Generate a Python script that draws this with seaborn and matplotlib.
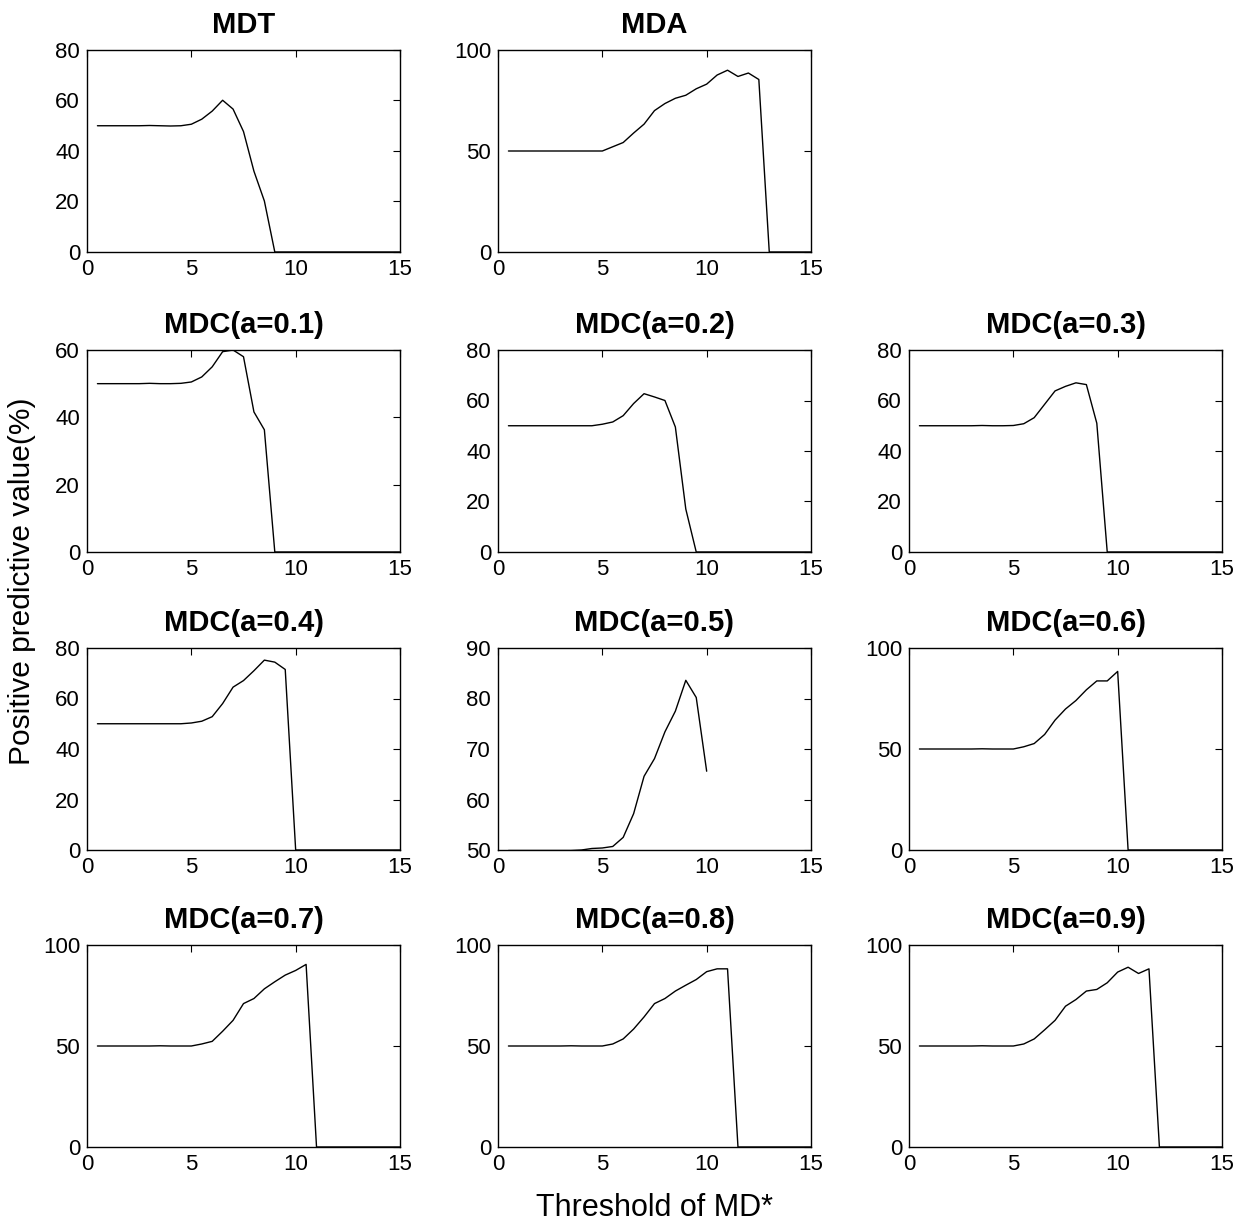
import numpy as np
import pandas as pd
import matplotlib
matplotlib.use("Agg")
import matplotlib.pyplot as plt
import seaborn as sns

# Threshold grid of MD*
thresholds = [0.5, 1.0, 1.5, 2.0, 2.5, 3.0, 3.5, 4.0, 4.5, 5.0,
              5.5, 6.0, 6.5, 7.0, 7.5, 8.0, 8.5, 9.0, 9.5, 10.0,
              10.5, 11.0, 11.5, 12.0, 12.5, 13.0, 13.5, 14.0, 14.5, 15.0]

# Positive predictive value (%) for each method
mdt = [50, 50, 50, 50, 50, 50.1, 50, 49.9, 50, 50.6,
       52.6, 55.8, 60.1, 56.6, 47.7, 32, 20.2, 0, 0, 0,
       0, 0, 0, 0, 0, 0, 0, 0, 0, 0]
mda = [50, 50, 50, 50, 50, 50, 50, 50, 50, 50,
       52.1, 54.2, 58.9, 63.3, 70, 73.5, 76.1, 77.6, 80.8, 83.1,
       87.6, 90, 86.9, 88.6, 85.4, 0, 0, 0, 0, 0]
mdc_01 = [50, 50, 50, 50, 50, 50.1, 50, 50, 50.1, 50.5,
          52, 55, 59.5, 60, 58, 41.6, 36.3, 0, 0, 0,
          0, 0, 0, 0, 0, 0, 0, 0, 0, 0]
mdc_02 = [50, 50, 50, 50, 50, 50, 50, 50, 50, 50.6,
          51.5, 54, 58.8, 62.7, 61.4, 60, 49.5, 17, 0, 0,
          0, 0, 0, 0, 0, 0, 0, 0, 0, 0]
mdc_03 = [50, 50, 50, 50, 50, 50, 50.1, 50, 50, 50.1,
          50.8, 53.2, 58.5, 63.8, 65.6, 67, 66.3, 51, 0, 0,
          0, 0, 0, 0, 0, 0, 0, 0, 0, 0]
mdc_04 = [50, 50, 50, 50, 50, 50, 50, 50, 50, 50.3,
          51, 52.8, 58, 64.5, 67.1, 71, 75.2, 74.4, 71.5, 0,
          0, 0, 0, 0, 0, 0, 0, 0, 0, 0]
mdc_05 = [49.9, 49.9, 49.9, 49.9, 49.9, 49.9, 49.9, 50, 50.3, 50.4,
          50.7, 52.5, 57.2, 64.6, 68.1, 73.4, 77.5, 83.6, 80.2, 65.6,
          np.nan, np.nan, np.nan, np.nan, np.nan, np.nan, np.nan, np.nan, np.nan, np.nan]
mdc_06 = [50, 50, 50, 50, 50, 50, 50.1, 50, 50, 50,
          51.1, 52.7, 57.2, 64.3, 69.8, 74, 79.3, 83.7, 83.7, 88.4,
          0, 0, 0, 0, 0, 0, 0, 0, 0, 0]
mdc_07 = [50, 50, 50, 50, 50, 50, 50.1, 50, 50, 50,
          51, 52.3, 57.3, 62.7, 71, 73.5, 78.3, 81.8, 85.1, 87.4,
          90.4, 0, 0, 0, 0, 0, 0, 0, 0, 0]
mdc_08 = [50, 50, 50, 50, 50, 50, 50.1, 50, 50, 50,
          51, 53.5, 58.4, 64.4, 71, 73.5, 77.2, 80.1, 82.9, 86.8,
          88.2, 88.2, 0, 0, 0, 0, 0, 0, 0, 0]
mdc_09 = [50, 50, 50, 50, 50, 50, 50.1, 50, 50, 50,
          51, 53.5, 58, 62.7, 69.7, 73, 77.2, 78, 81.3, 86.6,
          89, 85.9, 88.2, 0, 0, 0, 0, 0, 0, 0]

titles = ["MDT", "MDA",
          "MDC(a=0.1)", "MDC(a=0.2)", "MDC(a=0.3)",
          "MDC(a=0.4)", "MDC(a=0.5)", "MDC(a=0.6)",
          "MDC(a=0.7)", "MDC(a=0.8)", "MDC(a=0.9)"]
series = [mdt, mda, mdc_01, mdc_02, mdc_03, mdc_04, mdc_05,
          mdc_06, mdc_07, mdc_08, mdc_09]
y_limits = [(0, 80), (0, 100), (0, 60), (0, 80), (0, 80), (0, 80),
            (50, 90), (0, 100), (0, 100), (0, 100), (0, 100)]
y_ticks = [[0, 20, 40, 60, 80], [0, 50, 100], [0, 20, 40, 60],
           [0, 20, 40, 60, 80], [0, 20, 40, 60, 80], [0, 20, 40, 60, 80],
           [50, 60, 70, 80, 90], [0, 50, 100], [0, 50, 100], [0, 50, 100],
           [0, 50, 100]]
x_ticks = [0, 5, 10, 15]

sns.set_style("white")
plt.rcParams["font.family"] = ["Liberation Sans", "DejaVu Sans"]
plt.rcParams["text.color"] = "black"
plt.rcParams["axes.labelcolor"] = "black"
plt.rcParams["axes.titlecolor"] = "black"

W, H = 1242, 1224
fig = plt.figure(figsize=(W / 100, H / 100), dpi=100)

col_left = [87, 498, 909]
row_top = [50, 350, 648, 945]
ax_w, ax_h = 313, 202

# grid slots (row, col); the top-right slot stays empty
slots = [(0, 0), (0, 1),
         (1, 0), (1, 1), (1, 2),
         (2, 0), (2, 1), (2, 2),
         (3, 0), (3, 1), (3, 2)]

for (r, c), title, vals, ylim, yt in zip(slots, titles, series, y_limits, y_ticks):
    left = col_left[c]
    top = row_top[r]
    ax = fig.add_axes([left / W, 1 - (top + ax_h) / H, ax_w / W, ax_h / H])
    df = pd.DataFrame({"threshold": thresholds, "ppv": vals})
    sns.lineplot(data=df, x="threshold", y="ppv", ax=ax, color="black",
                 linewidth=1.0, estimator=None, sort=False)
    ax.set_xlim(0, 15)
    ax.set_ylim(*ylim)
    ax.set_xticks(x_ticks)
    ax.set_yticks(yt)
    ax.set_xlabel("")
    ax.set_ylabel("")
    ax.set_title(title, fontsize=21, fontweight="bold", pad=12, color="black")
    ax.tick_params(direction="in", top=True, right=True, length=5,
                   width=0.8, labelsize=16, colors="black", pad=5)
    for sp in ax.spines.values():
        sp.set_visible(True)
        sp.set_color("black")
        sp.set_linewidth(1.0)

fig.text(22 / W, 1 - 581 / H, "Positive predictive value(%)", rotation=90,
         ha="center", va="center", fontsize=21.5, color="black")
fig.text(654 / W, 1 - 1208 / H, "Threshold of MD*", ha="center",
         va="center", fontsize=22, color="black")

fig.savefig("out.png", dpi=100, facecolor="white")
